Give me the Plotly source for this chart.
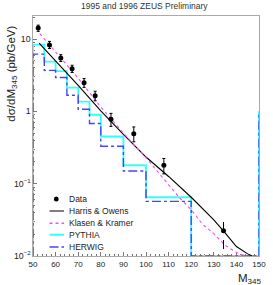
import plotly.graph_objects as go

# ---- data ----
data_x = [52.3, 57.3, 62.3, 67.3, 72.6, 77.5, 84.5, 94.6, 107.9, 134.3]
data_y = [14.2, 8.3, 5.5, 3.9, 2.5, 1.65, 0.78, 0.49, 0.18, 0.0223]
err_up = [1.4, 1.0, 0.6, 0.45, 0.35, 0.25, 0.16, 0.12, 0.043, 0.014]
err_dn = [1.4, 0.9, 0.6, 0.45, 0.35, 0.25, 0.16, 0.11, 0.043, 0.0098]

bin_edges = [50, 55, 60, 65, 70, 75, 80, 90, 100, 120, 150]
pythia = [8.4, 4.9, 3.6, 2.13, 1.37, 0.90, 0.45, 0.18, 0.065, 0.0]
herwig = [6.2, 3.7, 2.95, 1.67, 1.07, 0.68, 0.33, 0.15, 0.057, 0.0]
edge_value = 1.0  # vertical edge drawn at M=150

ho_x = [52.7, 60, 70, 80, 90, 100, 110, 120, 130, 135, 140, 145, 147]
ho_y = [8.8, 5.0, 2.3, 1.02, 0.48, 0.234, 0.126, 0.065, 0.0316, 0.0209, 0.0135, 0.0107, 0.0100]

kk_x = [53, 60, 70, 80, 90, 100, 110, 115, 120, 125, 130, 135, 140, 144]
kk_y = [11.9, 6.6, 2.88, 1.15, 0.50, 0.229, 0.0955, 0.063, 0.0437, 0.0275, 0.0204, 0.0141, 0.0112, 0.0100]

x_ticks = [50, 60, 70, 80, 90, 100, 110, 120, 130, 140, 150]
legend_labels = ["Data", "Harris & Owens", "Klasen & Kramer", "PYTHIA", "HERWIG"]

Y_FLOOR = 0.01
FONT = "Liberation Sans, Arial, sans-serif"

def hist_path(edges, vals, edge_val):
    xs = [edges[0]] + edges[:-1] + [edges[-1]]
    ys = [Y_FLOOR] + [v if v > 0 else Y_FLOOR for v in vals] + [edge_val]
    return xs, ys

fig = go.Figure()

px_, py_ = hist_path(bin_edges, pythia, edge_value)
fig.add_trace(go.Scatter(x=px_, y=py_, mode="lines", line_shape="hv",
                         line=dict(color="#33ffff", width=1.8), showlegend=False))
hx_, hy_ = hist_path(bin_edges, herwig, edge_value)
fig.add_trace(go.Scatter(x=hx_, y=hy_, mode="lines", line_shape="hv",
                         line=dict(color="#4444ff", width=1.4, dash="dashdot"), showlegend=False))

fig.add_trace(go.Scatter(x=ho_x, y=ho_y, mode="lines",
                         line=dict(color="black", width=1.1), showlegend=False))
fig.add_trace(go.Scatter(x=kk_x, y=kk_y, mode="lines",
                         line=dict(color="#ff44ff", width=1.1, dash="dot"), showlegend=False))

fig.add_trace(go.Scatter(x=data_x[:-1], y=data_y[:-1], mode="markers",
                         marker=dict(color="black", size=5),
                         error_y=dict(type="data", symmetric=False, array=err_up[:-1],
                                      arrayminus=err_dn[:-1], color="black",
                                      thickness=1, width=1.5),
                         showlegend=False))
# last point with dashed error bar
fig.add_trace(go.Scatter(x=[data_x[-1], data_x[-1]],
                         y=[data_y[-1] - err_dn[-1], data_y[-1] + err_up[-1]],
                         mode="lines", line=dict(color="black", width=1, dash="dash"),
                         showlegend=False))
fig.add_trace(go.Scatter(x=[data_x[-1]], y=[data_y[-1]], mode="markers",
                         marker=dict(color="black", size=5), showlegend=False))

# ---- manual compact legend ----
L_LEFT, L_RIGHT = 33, 266
B_BOT, B_TOP = 256, 16
def px2x(p):
    return (p - L_LEFT) / (L_RIGHT - L_LEFT)
def px2y(p):
    return (B_BOT - p) / (B_BOT - B_TOP)

rows = [199, 211, 223.3, 234.7, 247]
styles = [None,
          dict(color="#555", width=1.5),
          dict(color="#ff44ff", width=1.5, dash="dot"),
          dict(color="#33ffff", width=2),
          dict(color="#4444ff", width=1.5, dash="dashdot")]
shapes = []
for r, st in zip(rows, styles):
    if st is None:
        shapes.append(dict(type="circle", xref="paper", yref="paper",
                           x0=px2x(54.5), x1=px2x(59.5), y0=px2y(r + 2.5), y1=px2y(r - 2.5),
                           fillcolor="black", line=dict(color="black", width=0)))
    else:
        shapes.append(dict(type="line", xref="paper", yref="paper",
                           x0=px2x(50), x1=px2x(65), y0=px2y(r), y1=px2y(r), line=st))
annotations = []
for r, lab in zip(rows, legend_labels):
    annotations.append(dict(text=lab, xref="paper", yref="paper", x=px2x(68), y=px2y(r),
                            xanchor="left", yanchor="middle", showarrow=False,
                            font=dict(family=FONT, size=8.5, color="#222")))

annotations.append(dict(text="1995 and 1996 ZEUS Preliminary", xref="paper", yref="paper",
                        x=px2x(147.5), y=px2y(6), xanchor="center", yanchor="middle",
                        showarrow=False, font=dict(family=FONT, size=8.5, color="#333")))
annotations.append(dict(text="dσ/dM<sub>345</sub> (pb/GeV)", xref="paper", yref="paper",
                        x=px2x(11), y=px2y(74), xanchor="center", yanchor="middle",
                        textangle=-90, showarrow=False,
                        font=dict(family=FONT, size=11.5, color="#222")))
annotations.append(dict(text="M<sub>345</sub>", xref="paper", yref="paper",
                        x=px2x(257), y=px2y(278.5), xanchor="center", yanchor="middle",
                        showarrow=False, font=dict(family=FONT, size=11.5, color="#222")))

fig.update_layout(
    width=273, height=285,
    margin=dict(l=L_LEFT, r=273 - L_RIGHT, t=B_TOP, b=285 - B_BOT),
    paper_bgcolor="white", plot_bgcolor="white",
    shapes=shapes, annotations=annotations,
    font=dict(family=FONT, color="#222"),
)
fig.update_xaxes(range=[50, 150], tickvals=x_ticks, ticks="inside", ticklen=4,
                 tickcolor="#777", showgrid=False, zeroline=False,
                 showline=True, linecolor="#aaa", linewidth=1, mirror=True,
                 layer="below traces", ticklabeloverflow="allow",
                 tickfont=dict(family=FONT, size=8, color="#222"),
                 minor=dict(ticks="inside", ticklen=2, dtick=2, tickcolor="#777"))
fig.update_yaxes(type="log", range=[-2, 1.32], dtick=1, exponentformat="power",
                 ticks="inside", ticklen=4, tickcolor="#777", showgrid=False,
                 showline=True, linecolor="#aaa", linewidth=1, mirror=True,
                 layer="below traces",
                 tickfont=dict(family=FONT, size=7, color="#222"),
                 minor=dict(ticks="inside", ticklen=2, dtick="D1", tickcolor="#777"))

fig.write_html("out.html", config={"displayModeBar": False},
               post_script="document.body.style.margin='0';document.body.style.overflow='hidden';")
